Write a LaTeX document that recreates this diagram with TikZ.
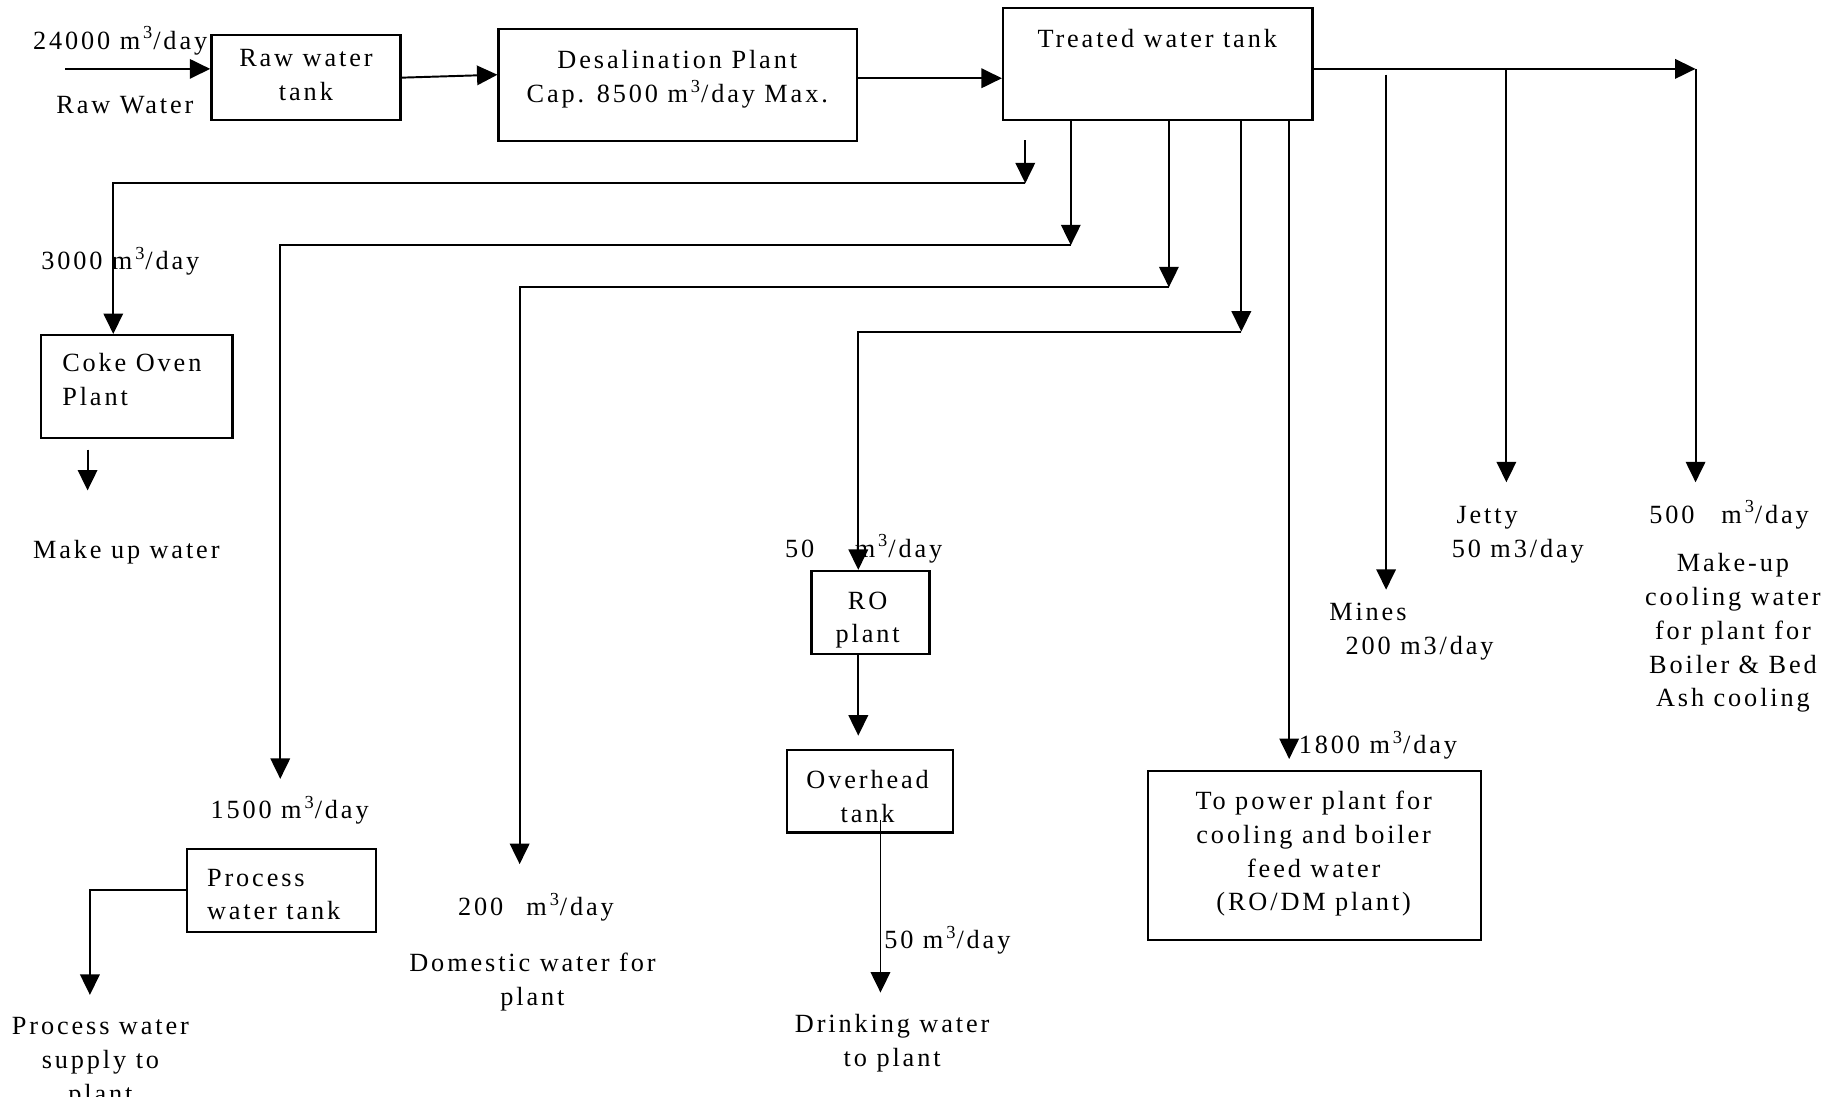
\documentclass[tikz,border=0pt]{standalone}
\usepackage{fontspec}
\setmainfont{Liberation Serif}[LetterSpace=11]
\usetikzlibrary{arrows.meta,fit,calc}
\newcommand{\mcube}{m\kern1.5pt\textsuperscript{3}/day}
\begin{document}
\begin{tikzpicture}[x=0.6pt,y=-0.6pt,
  every node/.style={font=\fontsize{13.5pt}{17.4pt}\selectfont},
  box/.style={draw, line width=1.2pt, inner sep=0pt},
  flow/.style={line width=1pt, -{Triangle[length=10.5pt,width=10pt]}},
  lbl/.style={inner sep=0pt, anchor=base west},
  ctr/.style={inner sep=0pt, align=center},
  lft/.style={inner sep=0pt, align=left, anchor=west}]
\useasboundingbox (0,0) rectangle (1568,939);
\clip (0,0) rectangle (1568,939);

% boxes
\node[box, fit={(181,30) (343,103)}] (rwt) {};
\node[box, fit={(427,25) (734,121)}] (dp) {};
\node[box, fit={(859,7) (1124,103)}] (twt) {};
\node[box, fit={(35,287) (199,375)}] (coke) {};
\node[box, fit={(160,727) (322,798)}] (pwt) {};
\node[box, fit={(695,489) (796,560)}] (ro) {};
\node[box, fit={(674,642) (816,713)}] (oht) {};
\node[box, fit={(983,660) (1268,805)}] (pp) {};

% box texts
\node[ctr] (rwtt) at (262,64) {Raw water\\tank};
\node[ctr] (dpt) at (580,68) {Desalination Plant\\Cap. 8500 \mcube{} Max.};
\node[inner sep=0pt, anchor=base] (twtt) at (991,41) {Treated water tank};
\node[lft] (coket) at (53,325) {Coke Oven\\Plant};
\node[lft] (pwtt) at (177,766) {Process\\water tank};
\node[ctr] (rot) at (743,531) {RO\\plant};
\node[ctr] (ohtt) at (743,682) {Overhead\\tank};
\node[ctr] (ppt) at (1125,731) {To power plant for\\cooling and boiler\\feed water\\(RO/DM plant)};

% free labels
\node[lbl] (l24000) at (28,42) {24000 \mcube};
\node[lbl] (lraw) at (48,97) {Raw Water};
\node[lbl] (l3000) at (35,231) {3000 \mcube};
\node[lbl] (lmake) at (28,478) {Make up water};
\node[lbl] (l1500) at (180,701) {1500 \mcube};
\node[ctr] (lpws) at (86,910) {Process water\\supply to\\plant};
\node[lbl] (l200) at (392,784) {200\hspace{7pt} \mcube};
\node[ctr] (ldom) at (456,841) {Domestic water for\\plant};
\node[lbl] (l50ro) at (672,477) {50\hspace{16pt} \mcube};
\node[lbl] (l50dw) at (757,812) {50 \mcube};
\node[ctr] (ldw) at (764,893) {Drinking water\\to plant};
\node[lbl] (l1800) at (1112,645) {1800 \mcube};
\node[lft] (lmines) at (1138,541) {Mines\\\hspace*{8.4pt}200 m3/day};
\node[lft] (ljetty) at (1243,458) {\hspace*{2.4pt}Jetty\\50 m3/day};
\node[lbl] (l500) at (1412,448) {500\hspace{9pt} \mcube};
\node[ctr] (lmkup) at (1484,542) {Make-up\\cooling water\\for plant for\\Boiler \& Bed\\Ash cooling};

% coordinates for free ends and junctions
\coordinate (rwin) at (56,59);
\coordinate (dpin) at (427,64);
\coordinate (twtin) at (859,67);
\coordinate (hdr) at (1452,59);
\coordinate (mkend) at (1452,413);
\coordinate (jtop) at (1290,59);
\coordinate (jend) at (1290,413);
\coordinate (mtop) at (1187,64);
\coordinate (mend) at (1187,505);
\coordinate (ppin) at (1104,650);
\coordinate (b1s) at (878,120);
\coordinate (b1e) at (878,157);
\coordinate (cokein) at (97,287);
\coordinate (b2e) at (917,210);
\coordinate (b2end) at (240,667);
\coordinate (b3e) at (1001,246);
\coordinate (b3end) at (445,740);
\coordinate (b4e) at (1063,284);
\coordinate (roin) at (735,489);
\coordinate (ohtin) at (735,630);
\coordinate (dws) at (754,702);
\coordinate (dwend) at (754,850);
\coordinate (pwend) at (77,852);
\coordinate (cks) at (75,385);
\coordinate (cke) at (75,420);

% connectors
\draw[flow] (rwin) -- (rwin -| rwt.west);
\draw[flow] (rwt.east) -- (dp.west |- dpin);
\draw[flow] (dp.east |- twtin) -- (twt.west |- twtin);
\draw[flow] (twt.east |- hdr) -- (hdr);
\draw[flow] (hdr) -- (mkend);
\draw[flow] (jtop) -- (jend);
\draw[flow] (mtop) -- (mend);
\draw[flow] (twt.south -| ppin) -- (ppin);
\draw[flow] (b1s) -- (b1e);
\draw[flow] (b1e) -| (coke.north -| cokein);
\draw[flow] (twt.south -| b2e) -- (b2e);
\draw[flow] (b2e) -| (b2end);
\draw[flow] (twt.south -| b3e) -- (b3e);
\draw[flow] (b3e) -| (b3end);
\draw[flow] (twt.south -| b4e) -- (b4e);
\draw[flow] (b4e) -| (ro.north -| roin);
\draw[flow] (ro.south -| roin) -- (ohtin);
\draw[flow] (dws) -- (dwend);
\draw[flow] (pwt.west) -| (pwend);
\draw[flow] (cks) -- (cke);
\end{tikzpicture}
\end{document}
